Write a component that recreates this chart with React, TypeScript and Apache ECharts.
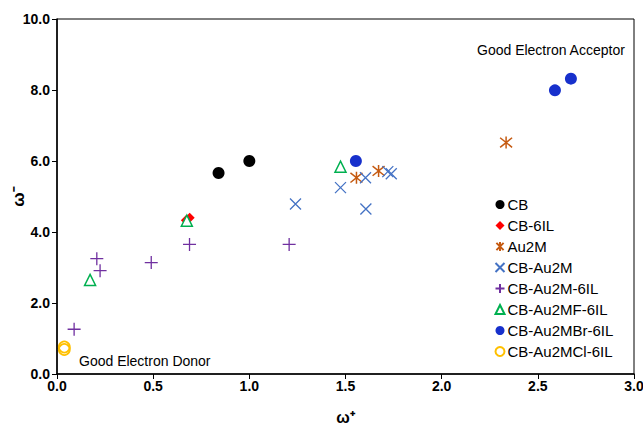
import React, { useEffect, useRef } from "react";
import * as echarts from "echarts";

const seriesNames = [
  "CB",
  "CB-6IL",
  "Au2M",
  "CB-Au2M",
  "CB-Au2M-6IL",
  "CB-Au2MF-6IL",
  "CB-Au2MBr-6IL",
  "CB-Au2MCl-6IL",
];

const cbData = [
  [0.84, 5.66],
  [1.0, 6.0],
];
const cb6ilData = [
  [0.67, 4.33],
  [0.69, 4.4],
];
const au2mData = [
  [1.557, 5.53],
  [1.672, 5.72],
  [2.335, 6.52],
];
const cbAu2mData = [
  [1.24, 4.79],
  [1.474, 5.25],
  [1.604, 5.53],
  [1.606, 4.65],
  [1.72, 5.7],
  [1.738, 5.64],
];
const cbAu2m6ilData = [
  [0.089, 1.26],
  [0.207, 3.25],
  [0.224, 2.91],
  [0.49, 3.14],
  [0.689, 3.65],
  [1.207, 3.65],
];
const cbAu2mf6ilData = [
  [0.172, 2.65],
  [0.675, 4.32],
  [1.474, 5.84],
];
const cbAu2mbr6ilData = [
  [1.554, 6.0],
  [2.589, 7.99],
  [2.672, 8.32],
];
const cbAu2mcl6ilData = [
  [0.038, 0.76],
  [0.038, 0.69],
];

const xTicks = { min: 0, max: 3, interval: 0.5 };
const yTicks = { min: 0, max: 10, interval: 2 };

const FONT = "'Liberation Sans', Arial, sans-serif";

const PLUS = "path://M5,0 L5,10 M0,5 L10,5";
const CROSS = "path://M0,0 L10,10 M10,0 L0,10";
const ASTER = "path://M1,1 L9,9 M9,1 L1,9 M5,0 L5,10";

export default function App() {
  const ref = useRef<HTMLDivElement>(null);
  useEffect(() => {
    if (!ref.current) return;
    const chart = echarts.init(ref.current, undefined, { renderer: "svg" });
    const option: any = {
      animation: false,
      backgroundColor: "#fff",
      textStyle: { fontFamily: FONT },
      grid: {
        left: 57,
        right: 9,
        top: 19,
        bottom: 53,
        containLabel: false,
        outerBoundsMode: "none",
        show: true,
        borderColor: "#000",
        borderWidth: 1,
      },
      xAxis: {
        type: "value",
        min: xTicks.min,
        max: xTicks.max,
        interval: xTicks.interval,
        splitLine: { show: false },
        axisLine: { show: true, lineStyle: { color: "#000", width: 1.5 } },
        axisTick: { show: true, inside: false, length: 5, lineStyle: { color: "#000" } },
        axisLabel: {
          color: "#000",
          fontWeight: "bold",
          fontSize: 14,
          fontFamily: FONT,
          margin: 5,
          formatter: (v: number) => v.toFixed(1),
        },
        name: "ω⁺",
        nameLocation: "middle",
        nameGap: 35,
        nameMoveOverlap: false,
        nameTextStyle: { color: "#000", fontWeight: "bold", fontSize: 16, fontFamily: FONT },
      },
      yAxis: {
        type: "value",
        min: yTicks.min,
        max: yTicks.max,
        interval: yTicks.interval,
        splitLine: { show: false },
        axisLine: { show: true, lineStyle: { color: "#000", width: 1.5 } },
        axisTick: { show: true, inside: false, length: 5, lineStyle: { color: "#000" } },
        axisLabel: {
          color: "#000",
          fontWeight: "bold",
          fontSize: 14,
          fontFamily: FONT,
          margin: 7,
          formatter: (v: number) => v.toFixed(1),
        },
        name: "ω⁻",
        nameLocation: "middle",
        nameRotate: 90,
        nameGap: 30,
        nameMoveOverlap: false,
        nameTextStyle: { color: "#000", fontWeight: "bold", fontSize: 17, fontFamily: FONT },
      },
      legend: {
        orient: "vertical",
        left: 493,
        top: 197,
        padding: 0,
        itemGap: 6,
        itemWidth: 9,
        itemHeight: 9,
        textStyle: { fontSize: 15, color: "#000", fontFamily: FONT, padding: [0, 0, 0, -2] },
        data: seriesNames,
      },
      graphic: [
        {
          type: "text",
          left: 477,
          top: 43,
          style: { text: "Good Electron Acceptor", fontSize: 14, fill: "#000", fontFamily: FONT },
        },
        {
          type: "text",
          left: 79,
          top: 354,
          style: { text: "Good Electron Donor", fontSize: 14, fill: "#000", fontFamily: FONT },
        },
      ],
      series: [
        {
          name: seriesNames[0],
          type: "scatter",
          data: cbData,
          symbol: "circle",
          symbolSize: 12,
          itemStyle: { color: "#000", opacity: 1 },
        },
        {
          name: seriesNames[1],
          type: "scatter",
          data: cb6ilData,
          symbol: "diamond",
          symbolSize: 10,
          itemStyle: { color: "#FF0000", opacity: 1 },
        },
        {
          name: seriesNames[2],
          type: "scatter",
          data: au2mData,
          symbol: ASTER,
          symbolSize: 12,
          itemStyle: { color: "none", borderColor: "#C55A11", borderWidth: 1.5, opacity: 1 },
        },
        {
          name: seriesNames[3],
          type: "scatter",
          data: cbAu2mData,
          symbol: CROSS,
          symbolSize: 11,
          itemStyle: { color: "none", borderColor: "#4472C4", borderWidth: 1.3, opacity: 1 },
        },
        {
          name: seriesNames[4],
          type: "scatter",
          data: cbAu2m6ilData,
          symbol: PLUS,
          symbolSize: 13,
          itemStyle: { color: "none", borderColor: "#7030A0", borderWidth: 1.3, opacity: 1 },
        },
        {
          name: seriesNames[5],
          type: "scatter",
          data: cbAu2mf6ilData,
          symbol: "triangle",
          symbolSize: 11,
          itemStyle: { color: "#fff", borderColor: "#00B050", borderWidth: 1.5, opacity: 1 },
        },
        {
          name: seriesNames[6],
          type: "scatter",
          data: cbAu2mbr6ilData,
          symbol: "circle",
          symbolSize: 12,
          itemStyle: { color: "#1730CC", opacity: 1 },
        },
        {
          name: seriesNames[7],
          type: "scatter",
          data: cbAu2mcl6ilData,
          symbol: "circle",
          symbolSize: 11,
          itemStyle: { color: "none", borderColor: "#FFC000", borderWidth: 1.8, opacity: 1 },
        },
      ],
    };
    chart.setOption(option);
    return () => chart.dispose();
  }, []);
  return <div ref={ref} style={{ width: 643, height: 427, position: "absolute", left: 0, top: 0 }} />;
}
